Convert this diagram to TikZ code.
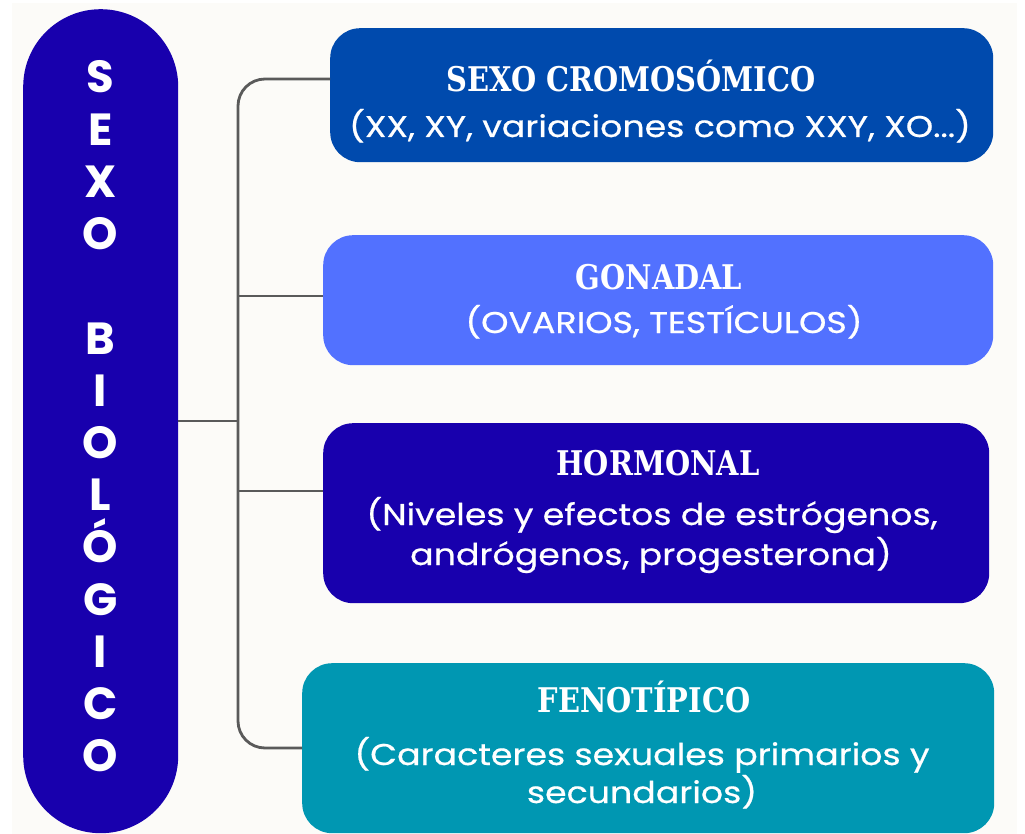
\documentclass[tikz,border=0pt]{standalone}
\usepackage{fontspec}
\newfontfamily\bodyfont{Poppins}
\newfontfamily\subfont[FakeStretch=1.16,FakeBold=0.6]{Poppins}
\newfontfamily\titlefont[FakeStretch=0.85]{DejaVu Serif}
\definecolor{bg}{HTML}{FCFBF8}
\definecolor{pillc}{HTML}{1800AD}
\definecolor{c1}{HTML}{004AAD}
\definecolor{c2}{HTML}{5271FF}
\definecolor{c3}{HTML}{1800AD}
\definecolor{c4}{HTML}{0097B2}
\definecolor{conc}{HTML}{5A5A5A}
\tikzset{
  boxsh/.style={rectangle, rounded corners=30pt, inner sep=0pt, anchor=north west},
  ttl/.style={anchor=base, inner sep=0pt, text=white, font=\titlefont\bfseries\fontsize{34}{34}\selectfont},
  sub/.style={anchor=base, inner sep=0pt, text=white, font=\subfont\fontsize{30}{40}\selectfont},
  vlet/.style={anchor=base, inner sep=0pt, text=white, font=\bodyfont\bfseries\fontsize{45}{45}\selectfont},
  conn/.style={draw=conc, line width=2.8pt}
}
\begin{document}
\begin{tikzpicture}[x=1pt,y=-1pt]
\useasboundingbox (0,0) rectangle (1025,834);
\fill[white] (0,0) rectangle (1025,834);
\fill[bg] (12,3) rectangle (1017,834);
% pill
\node[rectangle, rounded corners=77.5pt, fill=pillc, inner sep=0pt, minimum width=155pt, minimum height=824pt, anchor=north west] (pill) at (23,9) {};
\foreach \ch [count=\i from 0] in {S,E,X,O,{},B,I,O,L,Ó,G,I,C,O} {
  \node[vlet] (v\i) at (100.5, 93+52.2*\i) {\ch};
}
% boxes
\node[boxsh, fill=c1, minimum width=663pt, minimum height=134pt] (b1) at (330,28) {};
\node[boxsh, fill=c2, minimum width=670pt, minimum height=130pt] (b2) at (323,235) {};
\node[boxsh, fill=c3, minimum width=666pt, minimum height=180pt] (b3) at (323,423) {};
\node[boxsh, fill=c4, minimum width=692pt, minimum height=170pt] (b4) at (302,663) {};
% texts
\node[ttl] (t1a) at (631,92) {SEXO CROMOSÓMICO};
\node[sub] (t1b) at (660,137) {(XX, XY, variaciones como XXY, XO...)};
\node[ttl] (t2a) at (659,290) {GONADAL};
\node[sub] (t2b) at (664,333) {(OVARIOS, TESTÍCULOS)};
\node[ttl] (t3a) at (658,475) {HORMONAL};
\node[sub] (t3b) at (652,525) {(Niveles y efectos de estrógenos,};
\node[sub] (t3c) at (651,565) {andrógenos, progesterona)};
\node[ttl] (t4a) at (644,712) {FENOTÍPICO};
\node[sub] (t4b) at (642,765) {(Caracteres sexuales primarios y};
\node[sub] (t4c) at (642,803) {secundarios)};
% connectors
\coordinate (j) at (238,421);
\coordinate (k1) at (238,79);
\coordinate (k2) at (238,296);
\coordinate (k3) at (238,491);
\coordinate (k4) at (238,748);
\draw[conn, rounded corners=27pt] (b1.west |- k1) -- (k1) -- (k4) -- (b4.west |- k4);
\draw[conn] (pill.east |- j) -- (j);
\draw[conn] (k2) -- (b2.west |- k2);
\draw[conn] (k3) -- (b3.west |- k3);
\end{tikzpicture}
\end{document}
